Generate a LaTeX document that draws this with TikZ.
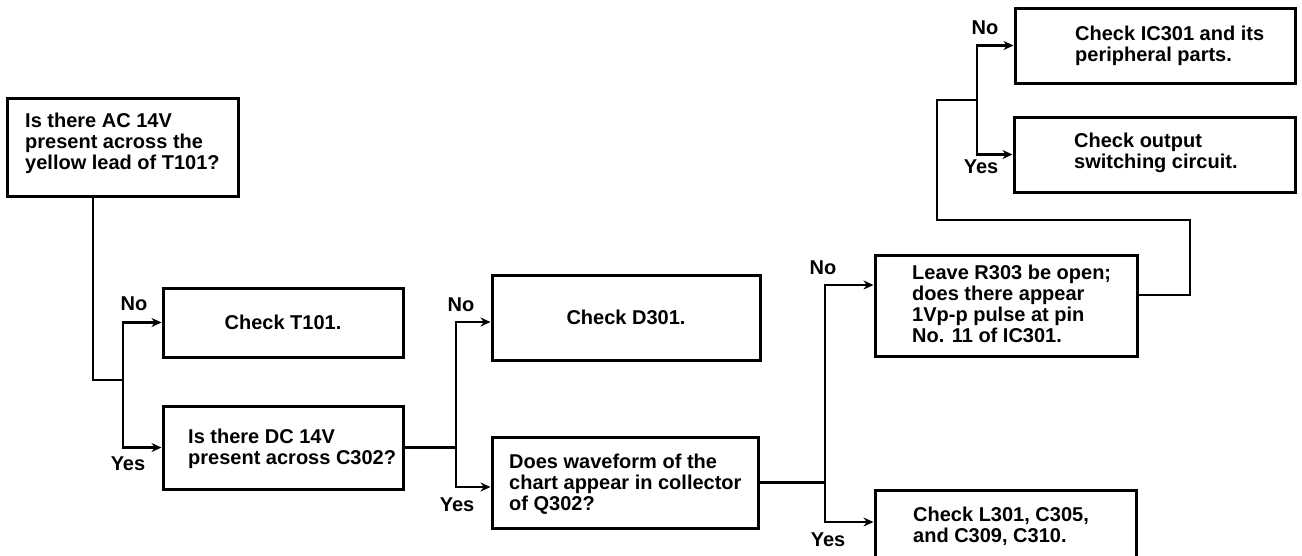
\documentclass[tikz,border=0pt]{standalone}
\usepackage{fontspec}
\setmainfont{Liberation Sans}
\usetikzlibrary{arrows.meta}
\begin{document}
\begin{tikzpicture}[x=1pt,y=-1pt,
  font=\bfseries\fontsize{20}{21}\selectfont,
  box/.style={draw, line width=3pt, inner sep=0pt, align=center},
  txt/.style={inner sep=0pt, align=left, anchor=west},
  lab/.style={inner sep=0pt},
  wire/.style={line width=2.5pt},
  arr/.style={line width=2.5pt, -{Stealth[length=10pt,width=9pt]}}]
\useasboundingbox (0,0) rectangle (1302,555);
\clip (0,0) rectangle (1302,555);
\fill[white] (0,0) rectangle (1302,555);
% boxes
\node[box, minimum width=231pt, minimum height=98pt] (b1) at (122.5,147) {};
\node[txt] (t1) at (25,143) {Is there AC 14V\\present across the\\yellow lead of T101?};
\node[box, minimum width=240pt, minimum height=69pt] (b2) at (283,322.5) {Check T101.};
\node[box, minimum width=240pt, minimum height=83pt] (b3) at (283,447.5) {};
\node[txt] (t3) at (188,449) {Is there DC 14V\\present across C302?};
\node[box, minimum width=268pt, minimum height=85pt] (b4) at (626,317.5) {Check D301.};
\node[box, minimum width=266pt, minimum height=91pt] (b5) at (625,482.5) {};
\node[txt] (t5) at (509,484) {Does waveform of the\\chart appear in collector\\of Q302?};
\node[box, minimum width=262pt, minimum height=101pt] (b6) at (1006,305.5) {};
\node[txt] (t6) at (912,303.5) {Leave R303 be open;\\does there appear\\1Vp-p pulse at pin\\No. 11 of IC301.};
\node[box, minimum width=280pt, minimum height=75pt] (b7) at (1155,45.5) {};
\node[txt] (t7) at (1075,46) {Check IC301 and its\\peripheral parts.};
\node[box, minimum width=281pt, minimum height=75pt] (b8) at (1154.5,154.5) {};
\node[txt] (t8) at (1074,152.5) {Check output\\switching circuit.};
\node[box, minimum width=261pt, minimum height=100pt] (b9) at (1005.5,540) {};
\node[txt] (t9) at (913,526) {Check L301, C305,\\and C309, C310.};
% junctions
\coordinate (s1) at (93,380);
\coordinate (j1) at (123,380);
\coordinate (j2) at (456,447.5);
\coordinate (j3) at (825,482.5);
\coordinate (r1) at (1190,295);
\coordinate (r2) at (1190,220);
\coordinate (r3) at (937,220);
\coordinate (r4) at (937,100);
\coordinate (j4) at (977,100);
% connectors
\draw[wire] (b1.south -| s1) -- (s1) -- (j1);
\draw[arr] (j1) |- (b2.west);
\draw[arr] (j1) |- (b3.west);
\draw[wire] (b3.east) -- (j2);
\draw[arr] (j2) |- ([yshift=-4.5pt]b4.west);
\draw[arr] (j2) |- ([yshift=-4.5pt]b5.west);
\draw[wire] (b5.east) -- (j3);
\draw[arr] (j3) |- ([yshift=20.5pt]b6.west);
\draw[arr] (j3) |- ([yshift=18pt]b9.west);
\draw[wire] ([yshift=10.5pt]b6.east) -- (r1) -- (r2) -- (r3) -- (r4) -- (j4);
\draw[arr] (j4) |- (b7.west);
\draw[arr] (j4) |- (b8.west);
% labels
\node[lab] (n1) at (134,304) {No};
\node[lab] (y1) at (128,464) {Yes};
\node[lab] (n2) at (461,305) {No};
\node[lab] (y2) at (457,505) {Yes};
\node[lab] (n3) at (823,268) {No};
\node[lab] (y3) at (828,540) {Yes};
\node[lab] (n4) at (985,28) {No};
\node[lab] (y4) at (981,167) {Yes};
\end{tikzpicture}
\end{document}
